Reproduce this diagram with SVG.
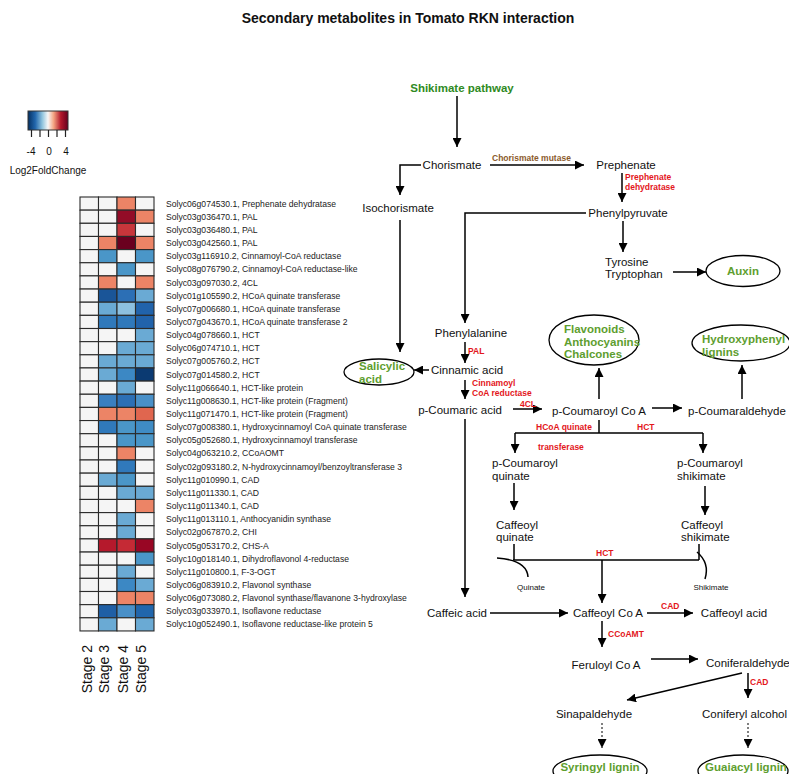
<svg xmlns="http://www.w3.org/2000/svg" width="789" height="774" viewBox="0 0 789 774">
<defs>
<linearGradient id="lg" x1="0" y1="0" x2="1" y2="0">
<stop offset="0" stop-color="#053061"/><stop offset="0.18" stop-color="#2166ac"/><stop offset="0.36" stop-color="#92c5de"/><stop offset="0.5" stop-color="#f7f7f7"/><stop offset="0.64" stop-color="#f4a582"/><stop offset="0.82" stop-color="#b2182b"/><stop offset="1" stop-color="#67001f"/>
</linearGradient>
<marker id="ah" viewBox="0 0 10 10" refX="10" refY="5" markerWidth="9" markerHeight="9" markerUnits="userSpaceOnUse" orient="auto"><path d="M0,0 L10,5 L0,10 z" fill="#000"/></marker>
</defs>
<style>
text{font-family:"Liberation Sans",Arial,sans-serif;fill:#111}
.t{font-size:11.5px}
.m{text-anchor:middle}
.g{font-size:11.5px;font-weight:bold;fill:#5e9e2f}
.r{font-size:8.5px;font-weight:bold;fill:#e3161c}
.s{font-size:8px}
.lab{font-size:8.6px;fill:#222}
.st{font-size:14px}
.ln{fill:none;stroke:#000;stroke-width:1.5}
.ar{fill:none;stroke:#000;stroke-width:1.5;marker-end:url(#ah)}
.dt{fill:none;stroke:#000;stroke-width:1;stroke-dasharray:2,2;marker-end:url(#ah)}
.el{fill:#fff;stroke:#000;stroke-width:1.3}
.c rect{stroke:#2a2a2a;stroke-width:1.1}
</style>
<rect width="789" height="774" fill="#fff"/>
<text x="408" y="23" class="m" style="font-size:14px;font-weight:bold">Secondary metabolites in Tomato RKN interaction</text>

<g id="legend">
<rect x="28" y="111" width="40" height="19" fill="url(#lg)" stroke="#333" stroke-width="1"/>
<path d="M31.5,130V137M40,130V137M48.5,130V137M57,130V137M65.5,130V137" stroke="#222" stroke-width="1.2"/>
<text x="31" y="155" class="m" style="font-size:10px">-4</text>
<text x="49" y="155" class="m" style="font-size:10px">0</text>
<text x="66" y="155" class="m" style="font-size:10px">4</text>
<text x="48" y="174" class="m" style="font-size:10px">Log2FoldChange</text>
</g>

<g id="heatmap" class="c">
<!-- columns x: 80, 98.5, 117, 135.5; row h 13.15 from 197 -->
<g fill="#f5f5f5">
<rect x="80" y="197" width="18.5" height="13.15"/><rect x="80" y="210.15" width="18.5" height="13.15"/><rect x="80" y="223.3" width="18.5" height="13.15"/><rect x="80" y="236.45" width="18.5" height="13.15"/><rect x="80" y="249.6" width="18.5" height="13.15"/><rect x="80" y="262.75" width="18.5" height="13.15"/><rect x="80" y="275.9" width="18.5" height="13.15"/><rect x="80" y="289.05" width="18.5" height="13.15"/><rect x="80" y="302.2" width="18.5" height="13.15"/><rect x="80" y="315.35" width="18.5" height="13.15"/><rect x="80" y="328.5" width="18.5" height="13.15"/><rect x="80" y="341.65" width="18.5" height="13.15"/><rect x="80" y="354.8" width="18.5" height="13.15"/><rect x="80" y="367.95" width="18.5" height="13.15"/><rect x="80" y="381.1" width="18.5" height="13.15"/><rect x="80" y="394.25" width="18.5" height="13.15"/><rect x="80" y="407.4" width="18.5" height="13.15"/><rect x="80" y="420.55" width="18.5" height="13.15"/><rect x="80" y="433.7" width="18.5" height="13.15"/><rect x="80" y="446.85" width="18.5" height="13.15"/><rect x="80" y="460" width="18.5" height="13.15"/><rect x="80" y="473.15" width="18.5" height="13.15"/><rect x="80" y="486.3" width="18.5" height="13.15"/><rect x="80" y="499.45" width="18.5" height="13.15"/><rect x="80" y="512.6" width="18.5" height="13.15"/><rect x="80" y="525.75" width="18.5" height="13.15"/><rect x="80" y="538.9" width="18.5" height="13.15"/><rect x="80" y="552.05" width="18.5" height="13.15"/><rect x="80" y="565.2" width="18.5" height="13.15"/><rect x="80" y="578.35" width="18.5" height="13.15"/><rect x="80" y="591.5" width="18.5" height="13.15"/><rect x="80" y="604.65" width="18.5" height="13.15"/><rect x="80" y="617.8" width="18.5" height="13.15"/>
</g>
<!-- row 1 -->
<rect x="98.5" y="197" width="18.5" height="13.15" fill="#f5f5f5"/><rect x="117" y="197" width="18.5" height="13.15" fill="#ec8466"/><rect x="135.5" y="197" width="18.5" height="13.15" fill="#f5f5f5"/>
<!-- row 2 -->
<rect x="98.5" y="210.15" width="18.5" height="13.15" fill="#f5f5f5"/><rect x="117" y="210.15" width="18.5" height="13.15" fill="#930c27"/><rect x="135.5" y="210.15" width="18.5" height="13.15" fill="#ec8466"/>
<!-- row 3 -->
<rect x="98.5" y="223.3" width="18.5" height="13.15" fill="#f5f5f5"/><rect x="117" y="223.3" width="18.5" height="13.15" fill="#c8363b"/><rect x="135.5" y="223.3" width="18.5" height="13.15" fill="#f5f5f5"/>
<!-- row 4 -->
<rect x="98.5" y="236.45" width="18.5" height="13.15" fill="#ec8466"/><rect x="117" y="236.45" width="18.5" height="13.15" fill="#6a001f"/><rect x="135.5" y="236.45" width="18.5" height="13.15" fill="#ec8466"/>
<!-- row 5 -->
<rect x="98.5" y="249.6" width="18.5" height="13.15" fill="#4a96c8"/><rect x="117" y="249.6" width="18.5" height="13.15" fill="#f5f5f5"/><rect x="135.5" y="249.6" width="18.5" height="13.15" fill="#4a96c8"/>
<!-- row 6 -->
<rect x="98.5" y="262.75" width="18.5" height="13.15" fill="#f5f5f5"/><rect x="117" y="262.75" width="18.5" height="13.15" fill="#4a96c8"/><rect x="135.5" y="262.75" width="18.5" height="13.15" fill="#f5f5f5"/>
<!-- row 7 -->
<rect x="98.5" y="275.9" width="18.5" height="13.15" fill="#ec8466"/><rect x="117" y="275.9" width="18.5" height="13.15" fill="#f5f5f5"/><rect x="135.5" y="275.9" width="18.5" height="13.15" fill="#ec8466"/>
<!-- row 8 -->
<rect x="98.5" y="289.05" width="18.5" height="13.15" fill="#1a5598"/><rect x="117" y="289.05" width="18.5" height="13.15" fill="#2c6fb5"/><rect x="135.5" y="289.05" width="18.5" height="13.15" fill="#6aaad4"/>
<!-- row 9 -->
<rect x="98.5" y="302.2" width="18.5" height="13.15" fill="#6aaad4"/><rect x="117" y="302.2" width="18.5" height="13.15" fill="#8dc0df"/><rect x="135.5" y="302.2" width="18.5" height="13.15" fill="#2163ab"/>
<!-- row 10 -->
<rect x="98.5" y="315.35" width="18.5" height="13.15" fill="#3079bb"/><rect x="117" y="315.35" width="18.5" height="13.15" fill="#3079bb"/><rect x="135.5" y="315.35" width="18.5" height="13.15" fill="#2163ab"/>
<!-- row 11 -->
<rect x="98.5" y="328.5" width="18.5" height="13.15" fill="#f5f5f5"/><rect x="117" y="328.5" width="18.5" height="13.15" fill="#f5f5f5"/><rect x="135.5" y="328.5" width="18.5" height="13.15" fill="#6aaad4"/>
<!-- row 12 -->
<rect x="98.5" y="341.65" width="18.5" height="13.15" fill="#f5f5f5"/><rect x="117" y="341.65" width="18.5" height="13.15" fill="#6aaad4"/><rect x="135.5" y="341.65" width="18.5" height="13.15" fill="#6aaad4"/>
<!-- row 13 -->
<rect x="98.5" y="354.8" width="18.5" height="13.15" fill="#6aaad4"/><rect x="117" y="354.8" width="18.5" height="13.15" fill="#6aaad4"/><rect x="135.5" y="354.8" width="18.5" height="13.15" fill="#6aaad4"/>
<!-- row 14 -->
<rect x="98.5" y="367.95" width="18.5" height="13.15" fill="#6aaad4"/><rect x="117" y="367.95" width="18.5" height="13.15" fill="#3c88c4"/><rect x="135.5" y="367.95" width="18.5" height="13.15" fill="#0b3a72"/>
<!-- row 15 -->
<rect x="98.5" y="381.1" width="18.5" height="13.15" fill="#f5f5f5"/><rect x="117" y="381.1" width="18.5" height="13.15" fill="#6aaad4"/><rect x="135.5" y="381.1" width="18.5" height="13.15" fill="#f5f5f5"/>
<!-- row 16 -->
<rect x="98.5" y="394.25" width="18.5" height="13.15" fill="#3a7fc0"/><rect x="117" y="394.25" width="18.5" height="13.15" fill="#2c6fb5"/><rect x="135.5" y="394.25" width="18.5" height="13.15" fill="#4a90c8"/>
<!-- row 17 -->
<rect x="98.5" y="407.4" width="18.5" height="13.15" fill="#ec8466"/><rect x="117" y="407.4" width="18.5" height="13.15" fill="#ec8466"/><rect x="135.5" y="407.4" width="18.5" height="13.15" fill="#e0664f"/>
<!-- row 18 -->
<rect x="98.5" y="420.55" width="18.5" height="13.15" fill="#3079bb"/><rect x="117" y="420.55" width="18.5" height="13.15" fill="#4a96c8"/><rect x="135.5" y="420.55" width="18.5" height="13.15" fill="#3f8cc5"/>
<!-- row 19 -->
<rect x="98.5" y="433.7" width="18.5" height="13.15" fill="#f5f5f5"/><rect x="117" y="433.7" width="18.5" height="13.15" fill="#4a96c8"/><rect x="135.5" y="433.7" width="18.5" height="13.15" fill="#4a96c8"/>
<!-- row 20 -->
<rect x="98.5" y="446.85" width="18.5" height="13.15" fill="#f5f5f5"/><rect x="117" y="446.85" width="18.5" height="13.15" fill="#ec8466"/><rect x="135.5" y="446.85" width="18.5" height="13.15" fill="#f5f5f5"/>
<!-- row 21 -->
<rect x="98.5" y="460" width="18.5" height="13.15" fill="#f5f5f5"/><rect x="117" y="460" width="18.5" height="13.15" fill="#3079bb"/><rect x="135.5" y="460" width="18.5" height="13.15" fill="#f5f5f5"/>
<!-- row 22 -->
<rect x="98.5" y="473.15" width="18.5" height="13.15" fill="#6aaad4"/><rect x="117" y="473.15" width="18.5" height="13.15" fill="#4a96c8"/><rect x="135.5" y="473.15" width="18.5" height="13.15" fill="#f5f5f5"/>
<!-- row 23 -->
<rect x="98.5" y="486.3" width="18.5" height="13.15" fill="#f5f5f5"/><rect x="117" y="486.3" width="18.5" height="13.15" fill="#6aaad4"/><rect x="135.5" y="486.3" width="18.5" height="13.15" fill="#6aaad4"/>
<!-- row 24 -->
<rect x="98.5" y="499.45" width="18.5" height="13.15" fill="#f5f5f5"/><rect x="117" y="499.45" width="18.5" height="13.15" fill="#f5f5f5"/><rect x="135.5" y="499.45" width="18.5" height="13.15" fill="#ec8466"/>
<!-- row 25 -->
<rect x="98.5" y="512.6" width="18.5" height="13.15" fill="#f5f5f5"/><rect x="117" y="512.6" width="18.5" height="13.15" fill="#6aaad4"/><rect x="135.5" y="512.6" width="18.5" height="13.15" fill="#f5f5f5"/>
<!-- row 26 -->
<rect x="98.5" y="525.75" width="18.5" height="13.15" fill="#f5f5f5"/><rect x="117" y="525.75" width="18.5" height="13.15" fill="#6aaad4"/><rect x="135.5" y="525.75" width="18.5" height="13.15" fill="#f5f5f5"/>
<!-- row 27 -->
<rect x="98.5" y="538.9" width="18.5" height="13.15" fill="#b5192c"/><rect x="117" y="538.9" width="18.5" height="13.15" fill="#c52a35"/><rect x="135.5" y="538.9" width="18.5" height="13.15" fill="#980624"/>
<!-- row 28 -->
<rect x="98.5" y="552.05" width="18.5" height="13.15" fill="#f5f5f5"/><rect x="117" y="552.05" width="18.5" height="13.15" fill="#f5f5f5"/><rect x="135.5" y="552.05" width="18.5" height="13.15" fill="#4a96c8"/>
<!-- row 29 -->
<rect x="98.5" y="565.2" width="18.5" height="13.15" fill="#f5f5f5"/><rect x="117" y="565.2" width="18.5" height="13.15" fill="#6aaad4"/><rect x="135.5" y="565.2" width="18.5" height="13.15" fill="#f5f5f5"/>
<!-- row 30 -->
<rect x="98.5" y="578.35" width="18.5" height="13.15" fill="#f5f5f5"/><rect x="117" y="578.35" width="18.5" height="13.15" fill="#3c88c4"/><rect x="135.5" y="578.35" width="18.5" height="13.15" fill="#6aaad4"/>
<!-- row 31 -->
<rect x="98.5" y="591.5" width="18.5" height="13.15" fill="#f5f5f5"/><rect x="117" y="591.5" width="18.5" height="13.15" fill="#ec8466"/><rect x="135.5" y="591.5" width="18.5" height="13.15" fill="#ec8466"/>
<!-- row 32 -->
<rect x="98.5" y="604.65" width="18.5" height="13.15" fill="#1f5fa5"/><rect x="117" y="604.65" width="18.5" height="13.15" fill="#4a90c8"/><rect x="135.5" y="604.65" width="18.5" height="13.15" fill="#2166ac"/>
<!-- row 33 -->
<rect x="98.5" y="617.8" width="18.5" height="13.15" fill="#6aaad4"/><rect x="117" y="617.8" width="18.5" height="13.15" fill="#f5f5f5"/><rect x="135.5" y="617.8" width="18.5" height="13.15" fill="#6aaad4"/>
</g>

<g id="gene-labels" class="lab">
<text x="166" y="206.6" class="lab">Solyc06g074530.1, Prephenate dehydratase</text>
<text x="166" y="219.75" class="lab">Solyc03g036470.1, PAL</text>
<text x="166" y="232.9" class="lab">Solyc03g036480.1, PAL</text>
<text x="166" y="246.05" class="lab">Solyc03g042560.1, PAL</text>
<text x="166" y="259.2" class="lab">Solyc03g116910.2, Cinnamoyl-CoA reductase</text>
<text x="166" y="272.35" class="lab">Solyc08g076790.2, Cinnamoyl-CoA reductase-like</text>
<text x="166" y="285.5" class="lab">Solyc03g097030.2, 4CL</text>
<text x="166" y="298.65" class="lab">Solyc01g105590.2, HCoA quinate transferase</text>
<text x="166" y="311.8" class="lab">Solyc07g006680.1, HCoA quinate transferase</text>
<text x="166" y="324.95" class="lab">Solyc07g043670.1, HCoA quinate transferase 2</text>
<text x="166" y="338.1" class="lab">Solyc04g078660.1, HCT</text>
<text x="166" y="351.25" class="lab">Solyc06g074710.1, HCT</text>
<text x="166" y="364.4" class="lab">Solyc07g005760.2, HCT</text>
<text x="166" y="377.55" class="lab">Solyc07g014580.2, HCT</text>
<text x="166" y="390.7" class="lab">Solyc11g066640.1, HCT-like protein</text>
<text x="166" y="403.85" class="lab">Solyc11g008630.1, HCT-like protein (Fragment)</text>
<text x="166" y="417" class="lab">Solyc11g071470.1, HCT-like protein (Fragment)</text>
<text x="166" y="430.15" class="lab">Solyc07g008380.1, Hydroxycinnamoyl CoA quinate transferase</text>
<text x="166" y="443.3" class="lab">Solyc05g052680.1, Hydroxycinnamoyl transferase</text>
<text x="166" y="456.45" class="lab">Solyc04g063210.2, CCoAOMT</text>
<text x="166" y="469.6" class="lab">Solyc02g093180.2, N-hydroxycinnamoyl/benzoyltransferase 3</text>
<text x="166" y="482.75" class="lab">Solyc11g010990.1, CAD</text>
<text x="166" y="495.9" class="lab">Solyc11g011330.1, CAD</text>
<text x="166" y="509.05" class="lab">Solyc11g011340.1, CAD</text>
<text x="166" y="522.2" class="lab">Solyc11g013110.1, Anthocyanidin synthase</text>
<text x="166" y="535.35" class="lab">Solyc02g067870.2, CHI</text>
<text x="166" y="548.5" class="lab">Solyc05g053170.2, CHS-A</text>
<text x="166" y="561.65" class="lab">Solyc10g018140.1, Dihydroflavonol 4-reductase</text>
<text x="166" y="574.8" class="lab">Solyc11g010800.1, F-3-OGT</text>
<text x="166" y="587.95" class="lab">Solyc06g083910.2, Flavonol synthase</text>
<text x="166" y="601.1" class="lab">Solyc06g073080.2, Flavonol synthase/flavanone 3-hydroxylase</text>
<text x="166" y="614.25" class="lab">Solyc03g033970.1, Isoflavone reductase</text>
<text x="166" y="627.4" class="lab">Solyc10g052490.1, Isoflavone reductase-like protein 5</text>
</g>

<g id="stage-labels" class="st">
<text transform="translate(91.5,645) rotate(-90)" style="text-anchor:end">Stage 2</text>
<text transform="translate(109,645) rotate(-90)" style="text-anchor:end">Stage 3</text>
<text transform="translate(127.5,645) rotate(-90)" style="text-anchor:end">Stage 4</text>
<text transform="translate(146,645) rotate(-90)" style="text-anchor:end">Stage 5</text>
</g>

<g id="connectors">
<path class="ar" d="M457,96V147"/>
<path class="ar" d="M490,165H584"/>
<path class="ar" d="M421,165H400V195"/>
<path class="ar" d="M400,220V352"/>
<path class="ar" d="M622,173V202"/>
<path class="ar" d="M586,213H465V323"/>
<path class="ar" d="M623,221V252"/>
<path class="ar" d="M673,272H706"/>
<path class="ar" d="M465,342V363"/>
<path class="ar" d="M429,370H414"/>
<path class="ar" d="M465,380V399"/>
<path class="ar" d="M513,409H542"/>
<path class="ar" d="M599,399V368"/>
<path class="ar" d="M652,408H682"/>
<path class="ar" d="M742,399V365"/>
<path class="ln" d="M599,420V433M515,433H703"/>
<path class="ar" d="M515,433V453"/>
<path class="ar" d="M703,433V453"/>
<path class="ar" d="M514,483V510"/>
<path class="ar" d="M705,486V515"/>
<path class="ln" d="M514,544V560M699,544V560M513,560H699"/>
<path class="ln" d="M497,558Q527,560 528,577"/>
<path class="ln" d="M697,552Q710,563 705,579"/>
<path class="ar" d="M602,560V603"/>
<path class="ar" d="M465,419V597"/>
<path class="ar" d="M490,613H568"/>
<path class="ar" d="M647,613H693"/>
<path class="ar" d="M602,621V647"/>
<path class="ar" d="M651,659H698"/>
<path class="ar" d="M742,673L627,700"/>
<path class="ar" d="M748,673V698"/>
<path class="dt" d="M602,723V748"/>
<path class="dt" d="M748,723V748"/>
</g>

<g id="enzyme-labels">
<text x="492" y="161" style="font-size:8.5px;font-weight:bold;fill:#8b5a2b">Chorismate mutase</text>
<text x="625" y="180" class="r">Prephenate</text>
<text x="625" y="190" class="r">dehydratase</text>
<text x="468" y="354" class="r">PAL</text>
<text x="472" y="386" class="r">Cinnamoyl</text>
<text x="472" y="396" class="r">CoA reductase</text>
<text x="520" y="407" class="r">4CL</text>
<text x="536" y="430" class="r">HCoA quinate</text>
<text x="538" y="450" class="r">transferase</text>
<text x="637" y="430" class="r">HCT</text>
<text x="596" y="556" class="r">HCT</text>
<text x="661" y="609" class="r">CAD</text>
<text x="608" y="637" class="r">CCoAMT</text>
<text x="750" y="685" class="r">CAD</text>
</g>

<g id="n-shikimate"><text x="462" y="92" class="g m" style="fill:#2f8a23">Shikimate pathway</text></g>
<g id="n-chorismate"><text x="452" y="169" class="t m">Chorismate</text></g>
<g id="n-prephenate"><text x="626" y="169" class="t m">Prephenate</text></g>
<g id="n-isochorismate"><text x="398" y="212" class="t m">Isochorismate</text></g>
<g id="n-phenylpyruvate"><text x="628" y="217" class="t m">Phenylpyruvate</text></g>
<g id="n-tyrosine"><text x="605" y="266" class="t">Tyrosine</text><text x="605" y="278" class="t">Tryptophan</text></g>
<g id="n-auxin"><ellipse cx="743" cy="271" rx="37" ry="15.5" class="el"/><text x="743" y="275" class="g m">Auxin</text></g>
<g id="n-phenylalanine"><text x="471" y="337" class="t m">Phenylalanine</text></g>
<g id="n-salicylic"><ellipse cx="379" cy="372" rx="35" ry="13" class="el"/><text x="359" y="370" class="g">Salicylic</text><text x="359" y="383" class="g">acid</text></g>
<g id="n-cinnamic"><text x="467" y="374" class="t m">Cinnamic acid</text></g>
<g id="n-pcoumaric"><text x="460" y="414" class="t m">p-Coumaric acid</text></g>
<g id="n-flavonoids"><ellipse cx="594" cy="340" rx="45" ry="25" class="el"/><text x="564" y="333" class="g">Flavonoids</text><text x="564" y="346" class="g">Anthocyanins</text><text x="564" y="358" class="g">Chalcones</text></g>
<g id="n-pcoumaroylcoa"><text x="599" y="415" class="t m">p-Coumaroyl Co A</text></g>
<g id="n-hydroxyphenyl"><ellipse cx="741" cy="343" rx="49" ry="18" class="el"/><text x="702" y="343" class="g">Hydroxyphenyl</text><text x="702" y="356" class="g">lignins</text></g>
<g id="n-pcoumaraldehyde"><text x="688" y="415" class="t">p-Coumaraldehyde</text></g>
<g id="n-pcq"><text x="492" y="467" class="t">p-Coumaroyl</text><text x="492" y="480" class="t">quinate</text></g>
<g id="n-pcs"><text x="677" y="467" class="t">p-Coumaroyl</text><text x="677" y="480" class="t">shikimate</text></g>
<g id="n-cq"><text x="496" y="529" class="t">Caffeoyl</text><text x="496" y="541" class="t">quinate</text></g>
<g id="n-cs"><text x="681" y="529" class="t">Caffeoyl</text><text x="681" y="541" class="t">shikimate</text></g>
<g id="n-quinate"><text x="531" y="590" class="s m">Quinate</text></g>
<g id="n-shikimate-s"><text x="711" y="590" class="s m">Shikimate</text></g>
<g id="n-caffeic"><text x="457" y="617" class="t m">Caffeic acid</text></g>
<g id="n-caffeoylcoa"><text x="608" y="617" class="t m">Caffeoyl Co A</text></g>
<g id="n-caffeoylacid"><text x="734" y="617" class="t m">Caffeoyl acid</text></g>
<g id="n-feruloyl"><text x="606" y="669" class="t m">Feruloyl Co A</text></g>
<g id="n-coniferaldehyde"><text x="706" y="667" class="t">Coniferaldehyde</text></g>
<g id="n-sinapaldehyde"><text x="594" y="718" class="t m">Sinapaldehyde</text></g>
<g id="n-coniferyl"><text x="702" y="718" class="t">Coniferyl alcohol</text></g>
<g id="n-syringyl"><ellipse cx="600" cy="771" rx="47" ry="16" class="el"/><text x="600" y="771" class="g m">Syringyl lignin</text></g>
<g id="n-guaiacyl"><ellipse cx="743" cy="771" rx="45" ry="16" class="el"/><text x="746" y="771" class="g m">Guaiacyl lignin</text></g>
</svg>
